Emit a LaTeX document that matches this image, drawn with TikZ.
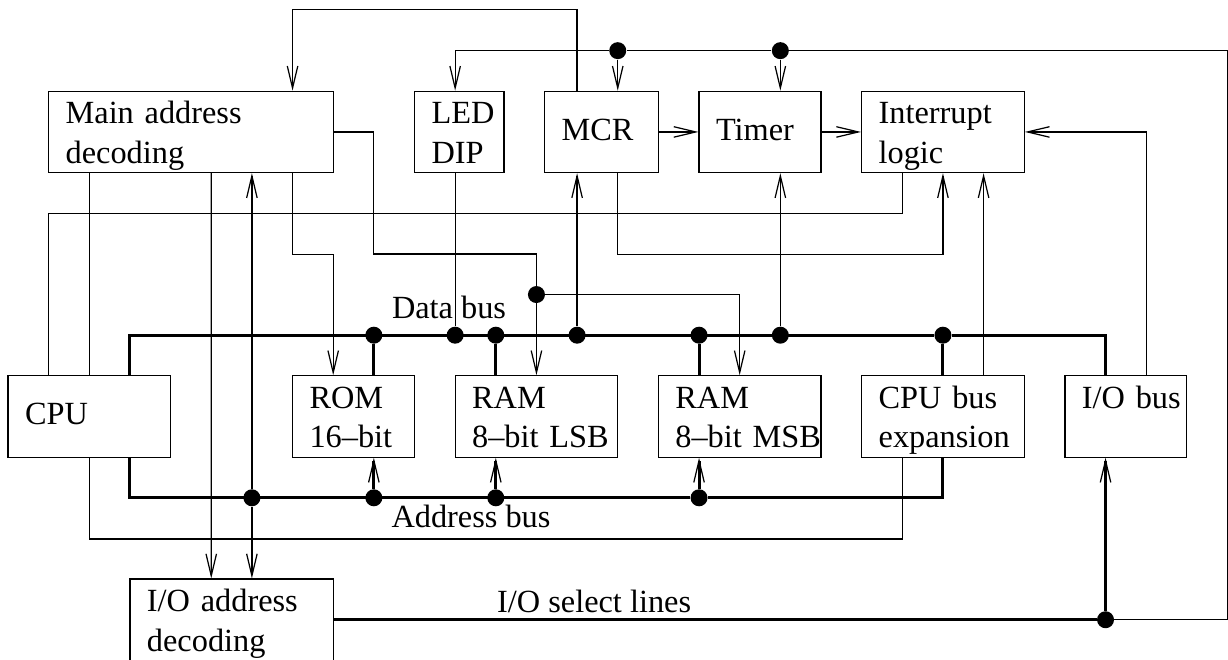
\documentclass[tikz,border=0pt]{standalone}
\usepackage{fontspec}
\setmainfont{Liberation Serif}
\usepackage{xcolor}
\usepackage{tikz}
\usetikzlibrary{arrows.meta}

\hyphenpenalty=10000
\exhyphenpenalty=10000

\begin{document}
\begin{tikzpicture}[font=\fontsize{18.4}{22.4}\selectfont]
        \def\hori{0.813}
        \def\vert{-0.813}
        \tikzstyle{wire}=[line width=0.7pt]
        \tikzstyle{bus}=[line width=1.7pt]
        \tikzstyle{arr}=[-{Straight Barb[length=4.4mm, width=2.1mm, line width=0.7pt]}]
        \tikzstyle{dot}=[circle, fill=black, inner sep=0pt, minimum size=3.4mm]
        \tikzstyle{single}=[text depth=1.2mm]
        \tikzset{block/.style={draw, line width=0.7pt, minimum width=#1*\hori cm,
            text width=#1*\hori cm-6.8mm, minimum height=2*\hori cm, inner xsep=3.4mm,
            inner ysep=0pt, align=left, text height=4.5mm, text depth=7.7mm}}

        \useasboundingbox (-0.197 * \hori, -0.246 * \vert) rectangle (30.013 * \hori, 15.966 * \vert);

        % Blocks
        \node[block=7] (mad) at (4.5 * \hori, 3 * \vert) {Main address\\decoding};
        \node[block=2.2] (led) at (11.1 * \hori, 3 * \vert) {LED\\DIP};
        \node[block=2.8, single] (mcr) at (14.6 * \hori, 3 * \vert) {MCR};
        \node[block=3, single] (tim) at (18.5 * \hori, 3 * \vert) {Timer};
        \node[block=4] (irq) at (23 * \hori, 3 * \vert) {Interrupt\\logic};

        \node[block=4, single] (cpu) at (2 * \hori, 10 * \vert) {CPU};
        \node[block=3] (rom) at (8.5 * \hori, 10 * \vert) {ROM\\16--bit};
        \node[block=4] (ramL) at (13 * \hori, 10 * \vert) {RAM\\8--bit~LSB};
        \node[block=4] (ramM) at (18 * \hori, 10 * \vert) {RAM\\8--bit~MSB};
        \node[block=4] (cbe) at (23 * \hori, 10 * \vert) {CPU bus\\expansion};
        \node[block=3] (iob) at (27.5 * \hori, 10 * \vert) {I/O~bus};

        \node[block=5] (iad) at (5.5 * \hori, 15 * \vert) {I/O address\\decoding};

        % Junctions
        \node[dot] (dRom) at (9 * \hori, 8 * \vert) {};
        \node[dot] (dLed) at (11 * \hori, 8 * \vert) {};
        \node[dot] (dRamL) at (12 * \hori, 8 * \vert) {};
        \node[dot] (dMcr) at (14 * \hori, 8 * \vert) {};
        \node[dot] (dRamM) at (17 * \hori, 8 * \vert) {};
        \node[dot] (dTim) at (19 * \hori, 8 * \vert) {};
        \node[dot] (dCbe) at (23 * \hori, 8 * \vert) {};
        \node[dot] (dIo) at (6 * \hori, 12 * \vert) {};
        \node[dot] (dRomA) at (9 * \hori, 12 * \vert) {};
        \node[dot] (dRamLA) at (12 * \hori, 12 * \vert) {};
        \node[dot] (dRamMA) at (17 * \hori, 12 * \vert) {};
        \node[dot] (dTopM) at (15 * \hori, 1 * \vert) {};
        \node[dot] (dTopT) at (19 * \hori, 1 * \vert) {};
        \node[dot] (dSplit) at (13 * \hori, 7 * \vert) {};
        \node[dot] (dSel) at (27 * \hori, 15 * \vert) {};

        % Bus labels
        \node[anchor=base] (lData) at (10.85 * \hori, 7.58 * \vert) {Data bus};
        \node[anchor=base] (lAddr) at (11.39 * \hori, 12.74 * \vert) {Address bus};
        \node[anchor=base] (lSel) at (14.42 * \hori, 14.81 * \vert) {I/O select lines};

        % Data bus
        \draw[bus] ([shift={(1 * \hori, 0)}]cpu.north) |- (dCbe) -| (dSel |- iob.north);
        \draw[bus] (dRom) -- (dRom |- rom.north);
        \draw[bus] (dRamL) -- (dRamL |- ramL.north);
        \draw[bus] (dRamM) -- (dRamM |- ramM.north);
        \draw[bus] (dCbe) -- (cbe.north);

        % Address bus
        \draw[bus] ([shift={(1 * \hori, 0)}]cpu.south) |- (dRamMA) -| (cbe.south);
        \draw[bus, arr] (dRomA) -- (dRomA |- rom.south);
        \draw[bus, arr] (dRamLA) -- (dRamLA |- ramL.south);
        \draw[bus, arr] (dRamMA) -- (dRamMA |- ramM.south);

        % I/O select lines
        \draw[bus] (iad.east) -- (dSel);
        \draw[bus, arr] (dSel) -- (dSel |- iob.south);

        % Control lines
        \draw[wire, arr] (dSel) -- (30 * \hori, 15 * \vert) |- (dTopT) -- (dTopM) -| (dLed |- led.north);
        \draw[wire, arr] (dTopM) -- (dTopM |- mcr.north);
        \draw[wire, arr] (dTopT) -- (dTopT |- tim.north);
        \draw[wire, arr] (dMcr |- mcr.north) -- ++(0, -2 * \vert) -| ([shift={(2.5 * \hori, 0)}]mad.north);

        \draw[wire, arr] (mcr.east) -- (tim.west);
        \draw[wire, arr] (tim.east) -- (irq.west);
        \draw[wire, arr] ([shift={(0.5 * \hori, 0)}]iob.north) |- (irq.east);
        \draw[wire, arr] ([shift={(1 * \hori, 0)}]cbe.north) -- ([shift={(1 * \hori, 0)}]irq.south);
        \draw[wire, arr] (dTopM |- mcr.south) -- ++(0, 2 * \vert) -| (irq.south);
        \draw[wire] ([shift={(-1 * \hori, 0)}]irq.south) -- ++(0, 1 * \vert) -| ([shift={(-1 * \hori, 0)}]cpu.north);

        \draw[wire] (dLed |- led.south) -- (dLed);
        \draw[wire, arr] (dMcr) -- (dMcr |- mcr.south);
        \draw[wire, arr] (dTim) -- (dTim |- tim.south);

        \draw[wire] (cpu.north |- mad.south) -- (cpu.north);
        \draw[wire] (cpu.south) -- ++(0, 2 * \vert) -| ([shift={(-1 * \hori, 0)}]cbe.south);
        \draw[wire, arr] ([shift={(0.5 * \hori, 0)}]mad.south) -- ([shift={(-0.5 * \hori, 0)}]iad.north);
        \draw[wire, arr] (dIo) -- (dIo |- mad.south);
        \draw[wire, arr] (dIo) -- (dIo |- iad.north);
        \draw[wire, arr] ([shift={(2.5 * \hori, 0)}]mad.south) -- ++(0, 2 * \vert) -| ([shift={(-0.5 * \hori, 0)}]rom.north);
        \draw[wire, arr] (mad.east) -| (9 * \hori, 6 * \vert) -| (ramL.north);
        \draw[wire, arr] (dSplit) -| (ramM.north);

\end{tikzpicture}
\end{document}
